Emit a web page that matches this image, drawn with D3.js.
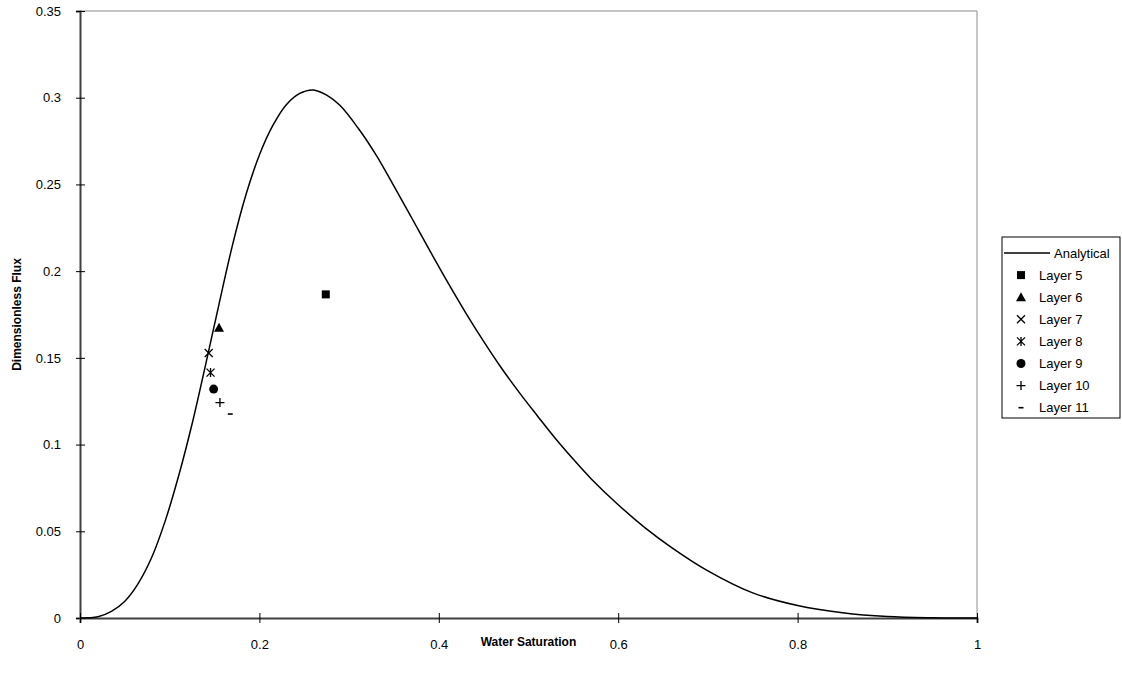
<!DOCTYPE html>
<html>
<head>
<meta charset="utf-8">
<script src="https://cdn.jsdelivr.net/npm/d3@7"></script>
<style>
  body { margin: 0; background: #fff; }
  svg { font-family: "Liberation Sans", Arial, sans-serif; }
</style>
</head>
<body>
<svg width="1122" height="684"></svg>
<script>
// analytical curve
var satValues = [0, 0.02, 0.035, 0.05, 0.065, 0.08, 0.095, 0.11, 0.125, 0.14, 0.155, 0.17, 0.185, 0.2, 0.215, 0.23, 0.245, 0.26, 0.275, 0.29,
    0.31, 0.33, 0.35, 0.37, 0.39, 0.41, 0.43, 0.45, 0.47, 0.49, 0.51, 0.53, 0.55, 0.57, 0.6, 0.63, 0.66, 0.7, 0.75, 0.8, 0.85, 0.9, 0.95, 1];
var fluxValues = [0, 0.0007, 0.0038, 0.0097, 0.02, 0.035, 0.056, 0.082, 0.112, 0.146, 0.181, 0.215, 0.244, 0.267, 0.284, 0.296, 0.3025, 0.3045, 0.3015, 0.2955,
    0.2825, 0.267, 0.249, 0.2305, 0.2118, 0.1935, 0.176, 0.1595, 0.144, 0.1298, 0.1165, 0.1035, 0.0915, 0.0802, 0.0653, 0.052, 0.0405, 0.0272, 0.0145, 0.0072, 0.003, 0.0008, 0.0001, 0];

// layer points
var layerNames = ["Layer 5", "Layer 6", "Layer 7", "Layer 8", "Layer 9", "Layer 10", "Layer 11"];
var layerSat = [0.274, 0.155, 0.1435, 0.1455, 0.149, 0.156, 0.1675];
var layerFlux = [0.1866, 0.1674, 0.1528, 0.1415, 0.132, 0.1242, 0.1176];
var layerShapes = ["square", "triangle", "cross", "asterisk", "circle", "plus", "minus"];

var xTicks = [0, 0.2, 0.4, 0.6, 0.8, 1];
var yTicks = [0, 0.05, 0.1, 0.15, 0.2, 0.25, 0.3, 0.35];

var svg = d3.select("svg"),
    margin = {top: 11, left: 80, right: 145, bottom: 66},
    width = +svg.attr("width"),
    height = +svg.attr("height");

var x = d3.scaleLinear().domain([0, 1]).range([margin.left, width - margin.right]);
var y = d3.scaleLinear().domain([0, 0.35]).range([height - margin.bottom, margin.top]);

// plot frame (top + right in light grey)
svg.append("path")
    .attr("d", "M" + x(0) + "," + y(0.35) + "H" + x(1) + "V" + y(0))
    .attr("fill", "none")
    .attr("stroke", "#8c8c8c")
    .attr("stroke-width", 1);

var fmt = function(d) { return String(+d.toFixed(2)); };

var yAxis = d3.axisLeft(y).tickValues(yTicks).tickFormat(fmt).tickSizeOuter(0).tickSize(4).tickPadding(15);
var xAxis = d3.axisBottom(x).tickValues(xTicks).tickFormat(fmt).tickSizeOuter(0).tickSize(5).tickPadding(17);

function styleAxis(g, vertical) {
    g.select(".domain").attr("stroke", "#404040").attr("stroke-width", 2);
    g.selectAll(".tick line").attr("stroke", "#000").attr("stroke-width", 1);
    if (vertical) g.selectAll(".tick line").attr("x1", 5);
    else g.selectAll(".tick line").attr("y1", -5);
    g.selectAll(".tick text").attr("fill", "#000").style("font-size", "13px")
        .style("font-family", "'Liberation Sans', Arial, sans-serif");
}

svg.append("g")
    .attr("transform", "translate(" + x(0) + ",0)")
    .call(yAxis)
    .call(function(g) { styleAxis(g, true); });

svg.append("g")
    .attr("transform", "translate(0," + y(0) + ")")
    .call(xAxis)
    .call(function(g) { styleAxis(g, false); });

// axis titles
svg.append("text")
    .attr("x", (x(0) + x(1)) / 2)
    .attr("y", 646)
    .attr("text-anchor", "middle")
    .style("font-size", "12px").style("font-weight", "bold")
    .text("Water Saturation");

svg.append("text")
    .attr("transform", "translate(21," + ((y(0) + y(0.35)) / 2) + ") rotate(-90)")
    .attr("text-anchor", "middle")
    .style("font-size", "12px").style("font-weight", "bold")
    .text("Dimensionless Flux");

// curve
var curveData = satValues.map(function(s, i) { return [s, fluxValues[i]]; });
var line = d3.line()
    .x(function(d) { return x(d[0]); })
    .y(function(d) { return y(d[1]); })
    .curve(d3.curveCatmullRom.alpha(0.5));

svg.append("path")
    .datum(curveData)
    .attr("d", line)
    .attr("fill", "none")
    .attr("stroke", "#000")
    .attr("stroke-width", 1.5);

// marker shapes
function drawMarker(g, shape) {
    if (shape === "square") {
        g.append("rect").attr("x", -4).attr("y", -4).attr("width", 8).attr("height", 8).attr("fill", "#000");
    } else if (shape === "triangle") {
        g.append("path").attr("d", "M0,-5L5,4H-5Z").attr("fill", "#000");
    } else if (shape === "cross") {
        g.append("path").attr("d", "M-4,-4L4,4M-4,4L4,-4").attr("stroke", "#000").attr("stroke-width", 1.3);
    } else if (shape === "asterisk") {
        g.append("path").attr("d", "M-4,-4L4,4M-4,4L4,-4M0,-4.5V4.5").attr("stroke", "#000").attr("stroke-width", 1.3);
    } else if (shape === "circle") {
        g.append("circle").attr("r", 4.5).attr("fill", "#000");
    } else if (shape === "plus") {
        g.append("path").attr("d", "M-4.5,0H4.5M0,-4.5V4.5").attr("stroke", "#000").attr("stroke-width", 1.3);
    } else if (shape === "minus") {
        g.append("path").attr("d", "M-2.5,0H2.5").attr("stroke", "#000").attr("stroke-width", 1.6);
    }
}

layerNames.forEach(function(name, i) {
    var g = svg.append("g").attr("transform", "translate(" + x(layerSat[i]) + "," + y(layerFlux[i]) + ")");
    drawMarker(g, layerShapes[i]);
});

// legend
var legend = svg.append("g").attr("transform", "translate(1002,237)");
var rowH = 22.1;
legend.append("rect")
    .attr("x", 0).attr("y", 0)
    .attr("width", 118).attr("height", 181)
    .attr("fill", "#fff").attr("stroke", "#000").attr("stroke-width", 1);

legend.append("line")
    .attr("x1", 2).attr("x2", 48).attr("y1", 16).attr("y2", 16)
    .attr("stroke", "#000").attr("stroke-width", 1.3);
legend.append("text")
    .attr("x", 52).attr("y", 16).attr("dy", "0.35em")
    .style("font-size", "13px").text("Analytical");

layerNames.forEach(function(name, i) {
    var cy = 16 + rowH * (i + 1);
    var g = legend.append("g").attr("transform", "translate(19," + cy + ")");
    drawMarker(g, layerShapes[i]);
    legend.append("text")
        .attr("x", 37).attr("y", cy).attr("dy", "0.35em")
        .style("font-size", "13px").text(name);
});
</script>
</body>
</html>
